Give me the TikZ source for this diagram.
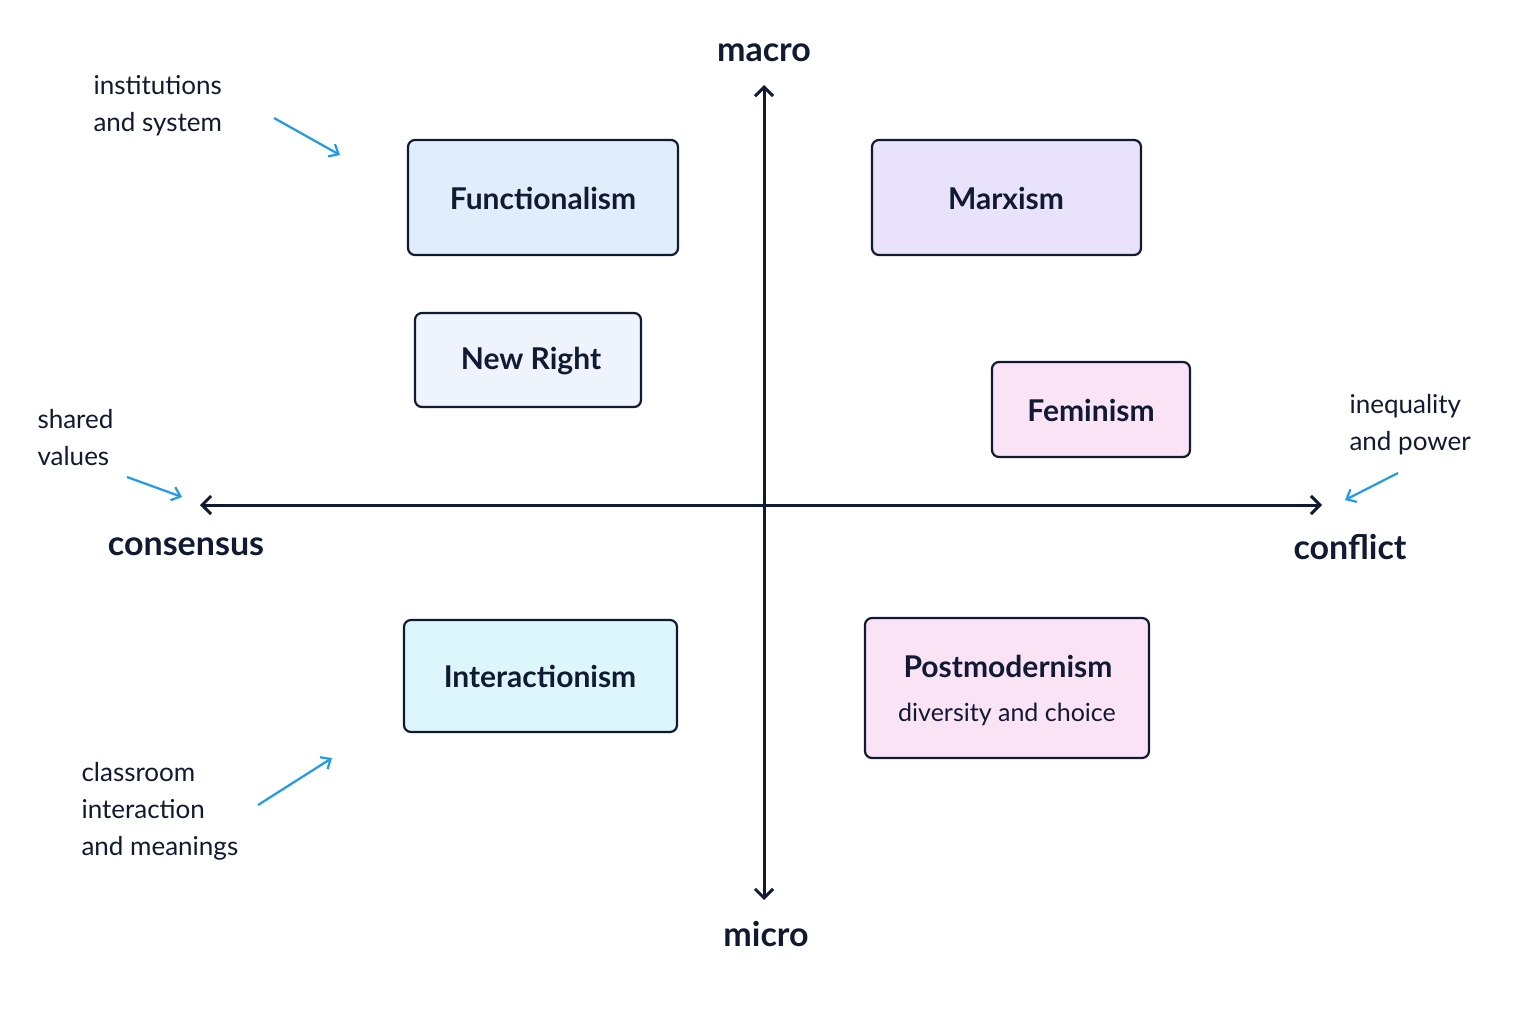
\documentclass[tikz,border=0pt]{standalone}
\usepackage{fontspec}
\setmainfont{Lato}
\usetikzlibrary{arrows.meta}
\definecolor{navy}{HTML}{111A33}
\definecolor{ablue}{HTML}{1E9BEA}
\definecolor{cf}{HTML}{E0EEFB}
\definecolor{cm}{HTML}{E8E2FA}
\definecolor{cn}{HTML}{EEF3FC}
\definecolor{cp}{HTML}{FBE3F6}
\definecolor{ci}{HTML}{DDF6FB}
\begin{document}
\begin{tikzpicture}[x=1pt,y=-1pt,
  box/.style={draw=navy,line width=2.2pt,rounded corners=7pt,inner sep=0pt},
  btxt/.style={text=navy,font=\fontsize{30}{34}\selectfont\bfseries},
  axl/.style={text=navy,font=\fontsize{34}{38}\selectfont\bfseries},
  ann/.style={text=navy,font=\fontsize{26}{37}\selectfont,align=left,anchor=north west},
  axis/.style={draw=navy,line width=3pt,{Straight Barb[length=9pt,width=18pt]}-{Straight Barb[length=9pt,width=18pt]}},
  aa/.style={draw=ablue,line width=2.2pt,-{Straight Barb[length=8pt,width=14pt]}}]
\useasboundingbox[fill=white] (0,0) rectangle (1536,1024);
\coordinate (top) at (764,85); \coordinate (bot) at (764,900);
\coordinate (lft) at (200,505); \coordinate (rgt) at (1322,505);
\draw[axis] (bot) -- (top);
\draw[axis] (lft) -- (rgt);
\node[axl] (macro) at (764,53) {macro};
\node[axl] (micro) at (766,934) {micro};
\node[axl] (cons) at (186,547) {consensus};
\node[axl] (conf) at (1350,547) {conflict};

\draw[box,fill=cf] (408,140) rectangle (678,255);
\node[btxt] (f) at (543,198) {Functionalism};
\draw[box,fill=cm] (872,140) rectangle (1141,255);
\node[btxt] (m) at (1006,198) {Marxism};
\draw[box,fill=cn] (415,313) rectangle (641,407);
\node[btxt] (nr) at (531,361) {New Right};
\draw[box,fill=cp] (992,362) rectangle (1190,457);
\node[btxt] (fe) at (1091,410) {Feminism};
\draw[box,fill=ci] (404,620) rectangle (677,732);
\node[btxt] (in) at (540,676) {Interactionism};
\draw[box,fill=cp] (865,618) rectangle (1149,758);
\node[btxt] (pm) at (1008,666) {Postmodernism};
\node[text=navy,font=\fontsize{25}{30}\selectfont] (dc) at (1007,714) {diversity and choice};

\node[ann] (a1) at (90,72) {institutions\\and system};
\coordinate (a1s) at (274,118); \coordinate (a1e) at (340,155);
\draw[aa] (a1s) -- (a1e);
\node[ann] (a2) at (34,406) {shared\\values};
\coordinate (a2s) at (127,477); \coordinate (a2e) at (182,497);
\draw[aa] (a2s) -- (a2e);
\node[ann] (a3) at (1346,391) {inequality\\and power};
\coordinate (a3s) at (1398,473); \coordinate (a3e) at (1345,500);
\draw[aa] (a3s) -- (a3e);
\node[ann] (a4) at (78,759) {classroom\\interaction\\and meanings};
\coordinate (a4s) at (258,805); \coordinate (a4e) at (332,758);
\draw[aa] (a4s) -- (a4e);
\end{tikzpicture}
\end{document}
